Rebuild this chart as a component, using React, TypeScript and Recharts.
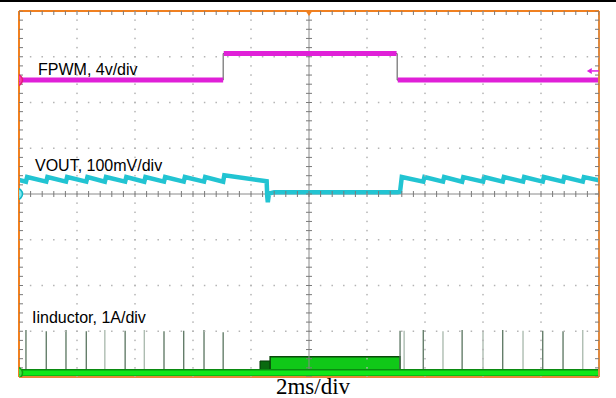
import React from 'react';
import { ComposedChart, Line, Area, Scatter, XAxis, YAxis, ReferenceLine } from 'recharts';

// Screen units: time in divisions (0..10, 2 ms/div), amplitude in divisions (-4..4)
const gridX = [1, 2, 3, 4, 6, 7, 8, 9];
const gridY = [-3, -2, -1, 1, 2, 3];
const minorX = Array.from({ length: 51 }, (_, i) => Math.round(i * 20) / 100);
const minorY = Array.from({ length: 41 }, (_, i) => Math.round(-400 + i * 20) / 100);

// Channel 3: FPWM, 4 V/div
const fpwmTime = [0, 3.52, 3.52, 6.52, 6.52, 10];
const fpwmLevel = [2.49, 2.49, 3.07, 3.07, 2.49, 2.49];

// Channel 2: VOUT, 100 mV/div
const voutTime = [0, 0.12, 0.14, 0.47, 0.49, 0.81, 0.83, 1.16, 1.18, 1.48, 1.5, 1.83, 1.85, 2.16, 2.18, 2.5, 2.52, 2.84, 2.86, 3.19, 3.21, 3.52, 3.54, 4.27, 4.28, 4.29, 4.31, 4.4, 6.53, 6.57, 6.6, 6.97, 6.99, 7.31, 7.33, 7.64, 7.66, 8.0, 8.02, 8.34, 8.36, 8.69, 8.71, 9.03, 9.05, 9.38, 9.4, 9.72, 9.74, 10];
const voutLevel = [0.31, 0.27, 0.37, 0.27, 0.37, 0.27, 0.37, 0.27, 0.37, 0.27, 0.37, 0.27, 0.37, 0.27, 0.37, 0.27, 0.37, 0.27, 0.37, 0.27, 0.37, 0.27, 0.41, 0.28, -0.05, -0.18, 0.01, 0.04, 0.04, 0.05, 0.37, 0.27, 0.37, 0.27, 0.37, 0.27, 0.37, 0.27, 0.37, 0.27, 0.37, 0.27, 0.37, 0.27, 0.37, 0.27, 0.37, 0.27, 0.37, 0.3];

// Channel 4: Iinductor, 1 A/div
const inductorBase = -3.91;
const spikeTimes = [0.12, 0.47, 0.81, 1.16, 1.48, 1.83, 2.16, 2.5, 2.84, 3.19, 3.52, 6.57, 6.64, 6.97, 7.31, 7.64, 8.0, 8.34, 8.69, 9.03, 9.38, 9.72];
const spikePeaks = [-2.97, -3.0, -2.97, -3.0, -2.97, -2.99, -2.97, -3.0, -2.99, -2.97, -3.02, -2.99, -2.99, -2.97, -3.0, -2.97, -2.99, -2.97, -2.99, -2.99, -3.0, -2.97];
const spikeShade = ['d', 'd', 'd', 'd', 'l', 'd', 'l', 'd', 'd', 'd', 'd', 'd', 'l', 'd', 'l', 'd', 'l', 'd', 'l', 'd', 'd', 'l'];
const rampTime = [4.155, 4.155, 4.33, 4.33];
const rampLevel = [-3.91, -3.65, -3.65, -3.91];
const blockTime = [4.33, 4.33, 6.57, 6.57];
const blockLevel = [-3.91, -3.56, -3.56, -3.91];

const markers = [
  { t: 0, v: 2.49, ch: '3', fill: '#ff3aa8', edge: '#e0207a' },
  { t: 0, v: 0, ch: '2', fill: '#7fe8f0', edge: '#10b8c8' },
  { t: 0, v: -3.91, ch: '4', fill: '#40e040', edge: '#10a010' },
];
const triggerLevel = [{ t: 9.79, v: 2.69 }];
const triggerPos = [{ t: 5, v: 4 }];

const pts = (ts: number[], vs: number[]) => ts.map((t, i) => ({ t, v: vs[i] }));
const fpwmData = pts(fpwmTime, fpwmLevel);
const fpwmBand = [
  { t: 0, v: 2.49 }, { t: 3.52, v: 2.49 }, { t: 3.52, v: null },
  { t: 3.53, v: 3.07 }, { t: 6.51, v: 3.07 }, { t: 6.52, v: null },
  { t: 6.53, v: 2.49 }, { t: 10, v: 2.49 },
];
const voutData = pts(voutTime, voutLevel);
const spikeData = (shade: string) =>
  spikeTimes.flatMap((t, i) =>
    spikeShade[i] === shade
      ? [{ t, v: inductorBase }, { t, v: spikePeaks[i] }, { t, v: inductorBase }]
      : []
  );
const baseData = [{ t: 0, v: inductorBase }, { t: 10, v: inductorBase }];
const centerHTicks = minorX.map((t) => ({ t, v: 0 }));
const centerVTicks = minorY.map((v) => ({ t: 5, v }));
const topTicks = minorX.map((t) => ({ t, v: 4 }));
const leftTicks = minorY.map((v) => ({ t: 0, v }));
const rightTicks = minorY.map((v) => ({ t: 10, v }));
const gridDotsH = gridY.flatMap((v) => minorX.map((t) => ({ t, v })));
const gridDotsV = gridX.flatMap((t) => minorY.map((v) => ({ t, v })));

const TICK = '#7a7a7a';
const HTick = (p: any) => <line x1={p.cx} x2={p.cx} y1={p.cy - 3} y2={p.cy + 3} stroke={TICK} strokeWidth={1} />;
const VTick = (p: any) => <line x1={p.cx - 3} x2={p.cx + 3} y1={p.cy} y2={p.cy} stroke={TICK} strokeWidth={1} />;
const TopTick = (p: any) => <line x1={p.cx} x2={p.cx} y1={p.cy} y2={p.cy + 4} stroke={TICK} strokeWidth={1} />;
const LeftTick = (p: any) => <line x1={p.cx} x2={p.cx + 4} y1={p.cy} y2={p.cy} stroke={TICK} strokeWidth={1} />;
const RightTick = (p: any) => <line x1={p.cx - 4} x2={p.cx} y1={p.cy} y2={p.cy} stroke={TICK} strokeWidth={1} />;
const Dot = (p: any) => <rect x={p.cx - 0.75} y={p.cy - 0.75} width={1.5} height={1.5} fill="#b4b4b4" />;
const Marker = (p: any) => (
  <g>
    <circle cx={p.cx - 2} cy={p.cy} r={5.5} fill={p.payload.fill} stroke={p.payload.edge} strokeWidth={1.5} />
    <text x={p.cx - 2} y={p.cy + 2.8} fontSize={8} fontWeight="bold" textAnchor="middle" fontFamily="Liberation Sans, Arial" fill="#222">{p.payload.ch}</text>
  </g>
);
const Arrow = (p: any) => (
  <g>
    <polygon points={`${p.cx},${p.cy} ${p.cx + 5},${p.cy - 3} ${p.cx + 5},${p.cy + 3}`} fill="#e020e0" />
    <line x1={p.cx + 5} x2={p.cx + 12} y1={p.cy} y2={p.cy} stroke="#e020e0" strokeWidth={1.5} />
  </g>
);
const Trig = (p: any) => (
  <polygon points={`${p.cx - 4},${p.cy - 1} ${p.cx + 4},${p.cy - 1} ${p.cx},${p.cy + 5}`} fill="#f08020" />
);

const FONT = 'Liberation Sans, Arial, sans-serif';

export default function App() {
  return (
    <div style={{ position: 'absolute', left: 0, top: 0, width: 616, height: 398, background: '#fff', overflow: 'hidden' }}>
      <div style={{ position: 'absolute', left: 0, top: 0, width: 616, height: 2, background: '#000' }} />
      <ComposedChart width={616} height={398} margin={{ top: 11, left: 19, right: 17, bottom: 21 }}>
        <XAxis xAxisId={0} dataKey="t" type="number" domain={[0, 10]} orientation="bottom" mirror tick={false} tickLine={false} axisLine={{ stroke: '#e8863a', strokeWidth: 2 }} allowDataOverflow />
        <YAxis yAxisId={0} dataKey="v" type="number" domain={[-4, 4]} orientation="left" mirror tick={false} tickLine={false} axisLine={{ stroke: '#f08020', strokeWidth: 2 }} allowDataOverflow />
        <XAxis xAxisId="top" type="number" domain={[0, 10]} orientation="top" mirror tick={false} tickLine={false} axisLine={{ stroke: '#f08020', strokeWidth: 2 }} allowDataOverflow />
        <YAxis yAxisId="right" type="number" domain={[-4, 4]} orientation="right" mirror tick={false} tickLine={false} axisLine={{ stroke: '#e08a40', strokeWidth: 2 }} allowDataOverflow />

        <Scatter data={gridDotsH} shape={Dot} isAnimationActive={false} />
        <Scatter data={gridDotsV} shape={Dot} isAnimationActive={false} />
        <ReferenceLine x={5} stroke="#8a8a8a" strokeWidth={1} />
        <ReferenceLine y={0} stroke="#8a8a8a" strokeWidth={1} />
        <Scatter data={centerHTicks} shape={HTick} isAnimationActive={false} />
        <Scatter data={centerVTicks} shape={VTick} isAnimationActive={false} />
        <Scatter data={topTicks} shape={TopTick} isAnimationActive={false} />
        <Scatter data={leftTicks} shape={LeftTick} isAnimationActive={false} />
        <Scatter data={rightTicks} shape={RightTick} isAnimationActive={false} />

        <Line data={fpwmData} dataKey="v" type="linear" stroke="#505050" strokeWidth={1} dot={false} isAnimationActive={false} />
        <Line data={fpwmBand} dataKey="v" type="linear" stroke="#e020d8" strokeWidth={5} dot={false} connectNulls={false} isAnimationActive={false} />

        <Line data={voutData} dataKey="v" type="linear" stroke="#22c4d2" strokeWidth={4.5} dot={false} isAnimationActive={false} />

        <Line data={spikeData('d')} dataKey="v" type="linear" stroke="#5a7560" strokeWidth={1.3} dot={false} isAnimationActive={false} />
        <Line data={spikeData('l')} dataKey="v" type="linear" stroke="#a8b8ac" strokeWidth={1.3} dot={false} isAnimationActive={false} />
        <Area data={pts(rampTime, rampLevel)} dataKey="v" type="linear" baseValue={-3.91} fill="#0a6a10" fillOpacity={1} stroke="#063a08" strokeWidth={1} isAnimationActive={false} />
        <Area data={pts(blockTime, blockLevel)} dataKey="v" type="linear" baseValue={-3.91} fill="#10c818" fillOpacity={1} stroke="#0a4a0a" strokeWidth={1.5} isAnimationActive={false} />
        <Line data={baseData} dataKey="v" type="linear" stroke="#0a8a10" strokeWidth={8} dot={false} isAnimationActive={false} />
        <Line data={baseData} dataKey="v" type="linear" stroke="#10e818" strokeWidth={5} dot={false} isAnimationActive={false} />

        <Scatter data={markers} shape={Marker} isAnimationActive={false} />
        <Scatter data={triggerLevel} shape={Arrow} isAnimationActive={false} />
        <Scatter data={triggerPos} shape={Trig} isAnimationActive={false} />
      </ComposedChart>
      <svg width={616} height={398} style={{ position: 'absolute', left: 0, top: 0, pointerEvents: 'none' }}>
        <text x={38} y={75} fontSize={16} fontFamily={FONT} fill="#000">FPWM, 4v/div</text>
        <text x={35} y={171} fontSize={16} fontFamily={FONT} fill="#000">VOUT, 100mV/div</text>
        <text x={32} y={323} fontSize={16} fontFamily={FONT} fill="#000">Iinductor, 1A/div</text>
        <text x={313} y={394} fontSize={23} fontFamily="Liberation Serif, Times New Roman, serif" textAnchor="middle" fill="#000">2ms/div</text>
      </svg>
    </div>
  );
}
